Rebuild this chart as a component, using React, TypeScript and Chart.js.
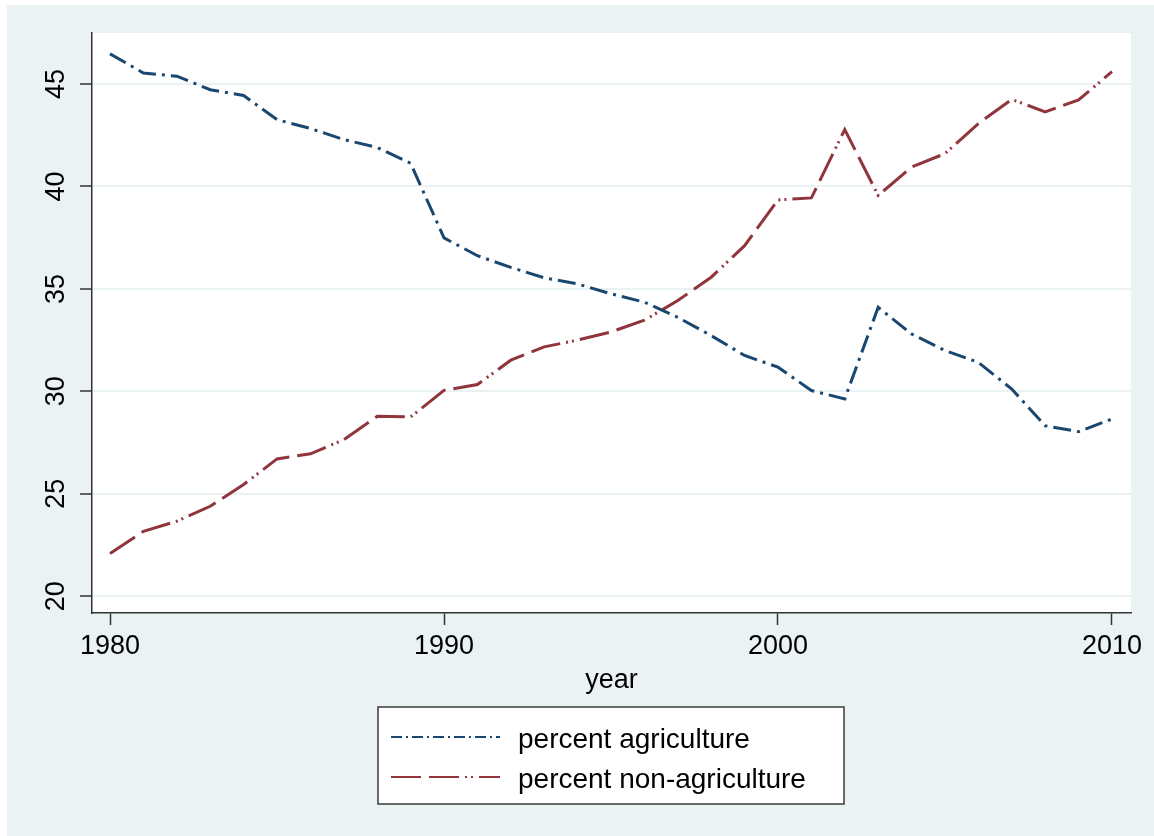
import React, { useEffect, useRef } from "react";
import { Chart, registerables } from "chart.js";

Chart.register(...registerables);

const years = [
  1980, 1981, 1982, 1983, 1984, 1985, 1986, 1987, 1988, 1989, 1990, 1991, 1992,
  1993, 1994, 1995, 1996, 1997, 1998, 1999, 2000, 2001, 2002, 2003, 2004, 2005,
  2006, 2007, 2008, 2009, 2010,
];
const agriculture = [
  46.47, 45.54, 45.38, 44.72, 44.44, 43.26, 42.83, 42.29, 41.9, 41.13, 37.49,
  36.62, 36.05, 35.54, 35.24, 34.76, 34.35, 33.61, 32.72, 31.75, 31.18, 30.04,
  29.63, 34.1, 32.8, 31.99, 31.41, 30.11, 28.32, 28.03, 28.65,
];
const nonAgriculture = [
  22.08, 23.17, 23.66, 24.39, 25.45, 26.7, 26.95, 27.64, 28.78, 28.75, 30.05,
  30.33, 31.52, 32.17, 32.5, 32.9, 33.47, 34.43, 35.57, 37.11, 39.34, 39.44,
  42.78, 39.56, 40.95, 41.6, 43.07, 44.25, 43.64, 44.22, 45.6,
];
const seriesLabels = ["percent agriculture", "percent non-agriculture"];
const xTickValues = [1980, 1990, 2000, 2010];
const yTickValues = [20, 25, 30, 35, 40, 45];
const xAxisTitle = "year";

const FONT = "'Liberation Sans', Arial, Helvetica, sans-serif";
const BG = "#EAF2F3";
const NAVY = "#1A476F";
const MAROON = "#90353B";
const AXIS = "#333333";

const chartDashes = [
  [18, 6, 3, 6],
  [30, 8, 30, 6, 2, 4, 2, 6],
];
const legendDashes = [
  [11, 4, 2, 4],
  [30, 8, 30, 6, 2, 4, 2, 6],
];

export default function App() {
  const ref = useRef<HTMLCanvasElement>(null);

  useEffect(() => {
    if (!ref.current) return;

    const bgPlugin = {
      id: "stataBg",
      beforeDraw(chart: any) {
        const { ctx, chartArea } = chart;
        ctx.save();
        ctx.fillStyle = "#ffffff";
        ctx.fillRect(0, 0, chart.width, chart.height);
        ctx.fillStyle = BG;
        ctx.fillRect(7, 5, chart.width - 7, chart.height - 5);
        ctx.fillStyle = "#ffffff";
        ctx.fillRect(
          chartArea.left,
          chartArea.top,
          chartArea.right - chartArea.left,
          chartArea.bottom - chartArea.top
        );
        ctx.restore();
      },
    };

    const legendPlugin = {
      id: "stataLegend",
      afterDraw(chart: any) {
        const ctx = chart.ctx;
        ctx.save();
        const bx = 378,
          by = 707,
          bw = 466,
          bh = 97;
        ctx.fillStyle = "#ffffff";
        ctx.fillRect(bx, by, bw, bh);
        ctx.strokeStyle = "#3a3a3a";
        ctx.lineWidth = 1.5;
        ctx.strokeRect(bx, by, bw, bh);
        chart.data.datasets.forEach((ds: any, i: number) => {
          const y = by + 30 + i * 40;
          ctx.strokeStyle = ds.borderColor;
          ctx.lineWidth = 2.2;
          ctx.setLineDash(legendDashes[i]);
          ctx.beginPath();
          ctx.moveTo(391, y);
          ctx.lineTo(500, y);
          ctx.stroke();
          ctx.setLineDash([]);
          ctx.fillStyle = "#000000";
          ctx.font = `28px ${FONT}`;
          ctx.textBaseline = "middle";
          ctx.textAlign = "left";
          ctx.fillText(ds.label, 518, y + 3);
        });
        ctx.restore();
      },
    };

    const chart = new Chart(ref.current, {
      type: "line",
      data: {
        datasets: [
          {
            label: seriesLabels[0],
            data: years.map((x, i) => ({ x, y: agriculture[i] })),
            borderColor: NAVY,
            borderWidth: 3,
            borderDash: chartDashes[0],
            pointRadius: 0,
            tension: 0,
            fill: false,
          },
          {
            label: seriesLabels[1],
            data: years.map((x, i) => ({ x, y: nonAgriculture[i] })),
            borderColor: MAROON,
            borderWidth: 3,
            borderDash: chartDashes[1],
            pointRadius: 0,
            tension: 0,
            fill: false,
          },
        ],
      },
      options: {
        responsive: false,
        animation: false,
        devicePixelRatio: 1,
        layout: { padding: { left: 0, top: 33, right: 23, bottom: 128 } },
        plugins: {
          legend: { display: false },
          tooltip: { enabled: false },
          title: { display: false },
        },
        scales: {
          x: {
            type: "linear",
            min: 1979.46,
            max: 2010.57,
            afterBuildTicks: (s: any) => {
              s.ticks = xTickValues.map((v) => ({ value: v }));
            },
            afterFit: (s: any) => {
              s.height = 95;
            },
            ticks: {
              callback: (v: any) => String(v),
              font: { family: FONT, size: 27 },
              color: "#000000",
              padding: 5,
              maxRotation: 0,
              autoSkip: false,
            },
            grid: {
              drawOnChartArea: false,
              drawTicks: true,
              tickLength: 12,
              tickColor: AXIS,
              tickWidth: 1.5,
            },
            border: { display: true, color: AXIS, width: 1.5 },
            title: {
              display: true,
              text: xAxisTitle,
              font: { family: FONT, size: 27 },
              color: "#000000",
              padding: { top: 4, bottom: 11 },
            },
          },
          y: {
            type: "linear",
            min: 19.18,
            max: 47.49,
            afterBuildTicks: (s: any) => {
              s.ticks = yTickValues.map((v) => ({ value: v }));
            },
            afterFit: (s: any) => {
              s.width = 92;
            },
            ticks: {
              callback: (v: any) => String(v),
              minRotation: 90,
              maxRotation: 90,
              crossAlign: "center",
              padding: 8,
              font: { family: FONT, size: 27 },
              color: "#000000",
            },
            grid: {
              color: BG,
              lineWidth: 2,
              drawTicks: true,
              tickLength: 12,
              tickColor: AXIS,
              tickWidth: 1.5,
            },
            border: { display: true, color: AXIS, width: 1.5 },
          },
        },
      },
      plugins: [bgPlugin, legendPlugin],
    } as any);

    return () => chart.destroy();
  }, []);

  return (
    <div
      style={{
        position: "fixed",
        left: 0,
        top: 0,
        width: 1154,
        height: 836,
        background: "#ffffff",
      }}
    >
      <canvas
        ref={ref}
        width={1154}
        height={836}
        style={{ display: "block", width: 1154, height: 836 }}
      />
    </div>
  );
}
